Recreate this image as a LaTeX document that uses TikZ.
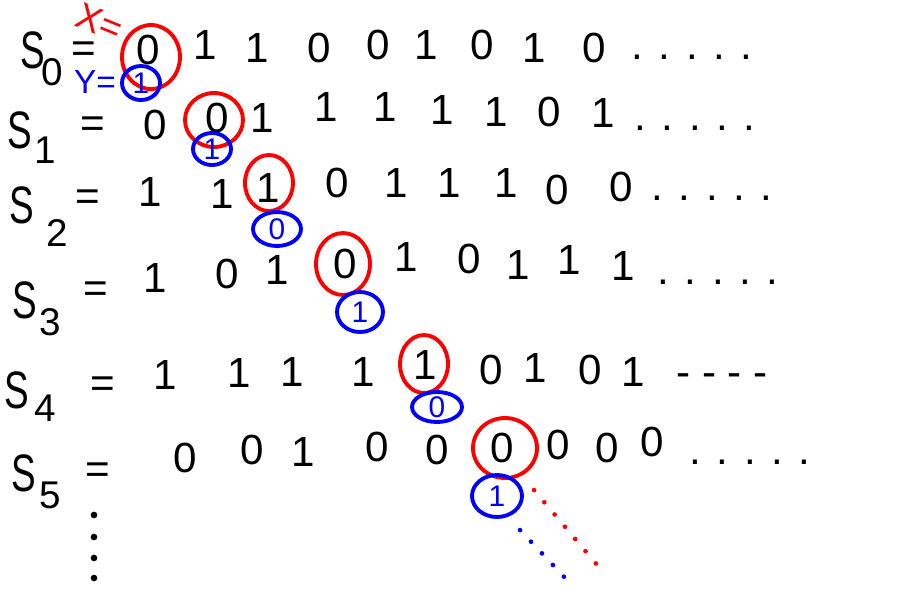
\documentclass[tikz,border=0pt]{standalone}
\usepackage{fontspec}
\setmainfont{Liberation Sans}
\usetikzlibrary{shapes.geometric}

\tikzset{
	bit/.style={font=\fontsize{24}{24}\selectfont},
	seqindex/.style={font=\fontsize{22}{22}\selectfont},
	redring/.style={ellipse, draw=red, line width=2.2pt, inner sep=0pt},
	bluering/.style={ellipse, draw=blue, text=blue, line width=2.2pt, inner sep=0pt, font=\fontsize{17}{17}\selectfont},
	diagdots/.style={line width=2.6pt, line cap=round, dash pattern=on 0.1pt off 9pt}
}
\newcommand{\seqS}{{\fontsize{30}{30}\selectfont\scalebox{0.7}[1]{S}}}

\begin{document}
\begin{tikzpicture}[x=0.02cm, y=-0.02cm]
	\useasboundingbox (0,0) rectangle (900,600);
	
	%%% Имена последовательностей
	
	\node (s0) at (33,50) {\seqS};   \node[seqindex] (i0) at (52,72) {0};   \node[bit] (e0) at (84,52) {=};
	\node (s1) at (20,130) {\seqS};  \node[seqindex] (i1) at (45,150) {1};  \node[bit] (e1) at (93,127) {=};
	\node (s2) at (22,205) {\seqS};  \node[seqindex] (i2) at (57,233) {2};  \node[bit] (e2) at (88,200) {=};
	\node (s3) at (25,300) {\seqS};  \node[seqindex] (i3) at (50,322) {3};  \node[bit] (e3) at (96,292) {=};
	\node (s4) at (17,390) {\seqS};  \node[seqindex] (i4) at (45,408) {4};  \node[bit] (e4) at (103,387) {=};
	\node (s5) at (24,473) {\seqS};  \node[seqindex] (i5) at (50,495) {5};  \node[bit] (e5) at (98,473) {=};
	
	%%% Строки битов
	
	% S_0
	\foreach \x/\y/\d [count=\i] in {148/50/0, 205/45/1, 257/48/1, 319/48/0, 378/45/0, 426/45/1, 482/45/0, 534/48/1, 594/48/0}
		\node[bit] (d0-\i) at (\x,\y) {\d};
	% S_1
	\foreach \x/\y/\d [count=\i] in {155/125/0, 217/118/0, 262/118/1, 326/107/1, 385/107/1, 442/110/1, 496/112/1, 549/112/0, 603/113/1}
		\node[bit] (d1-\i) at (\x,\y) {\d};
	% S_2
	\foreach \x/\y/\d [count=\i] in {150/192/1, 222/194/1, 268/188/1, 337/183/0, 396/183/1, 449/183/1, 506/183/1, 557/190/0, 621/187/0}
		\node[bit] (d2-\i) at (\x,\y) {\d};
	% S_3
	\foreach \x/\y/\d [count=\i] in {155/278/1, 227/274/0, 277/270/1, 345/264/0, 406/257/1, 469/259/0, 518/265/1, 569/260/1, 623/266/1}
		\node[bit] (d3-\i) at (\x,\y) {\d};
	% S_4
	\foreach \x/\y/\d [count=\i] in {165/375/1, 239/373/1, 292/372/1, 363/372/1, 425/365/1, 491/370/0, 535/368/1, 590/370/0, 633/372/1}
		\node[bit] (d4-\i) at (\x,\y) {\d};
	% S_5
	\foreach \x/\y/\d [count=\i] in {185/458/0, 252/450/0, 303/452/1, 377/447/0, 437/450/0, 502/448/0, 558/445/0, 607/448/0, 652/442/0}
		\node[bit] (d5-\i) at (\x,\y) {\d};
	
	% Многоточия
	\node[bit] (t0) at (692,57) {. . . . .};
	\node[bit] (t1) at (695,128) {. . . . .};
	\node[bit] (t2) at (712,198) {. . . . .};
	\node[bit] (t3) at (718,282) {. . . . .};
	\node[bit] (t4) at (722,380) {- - - -};
	\node[bit] (t5) at (750,462) {. . . . .};
	\foreach \y in {515,537,558,578}
		\fill (94,\y) circle (1.9pt);
	
	%%% Диагональ
	
	\node[red, font=\fontsize{21}{21}\selectfont, rotate=-22, inner sep=1pt] (xlab) at (100,22) {X=};
	\node[blue, font=\fontsize{19}{19}\selectfont, inner sep=1pt] (ylab) at (95,82) {Y=};
	
	\node[redring, minimum width=1.16cm, minimum height=1.28cm] (r0) at (151,57) {};
	\node[redring, minimum width=1.16cm, minimum height=1.08cm] (r1) at (214,120) {};
	\node[redring, minimum width=0.96cm, minimum height=1.12cm] (r2) at (269,183) {};
	\node[redring, minimum width=1.08cm, minimum height=1.24cm] (r3) at (343,264) {};
	\node[redring, minimum width=0.96cm, minimum height=1.16cm] (r4) at (424,364) {};
	\node[redring, minimum width=1.28cm, minimum height=1.20cm] (r5) at (505,448) {};
	
	\node[bluering, minimum width=0.76cm, minimum height=0.68cm] (y0) at (141,83) {1};
	\node[bluering, minimum width=0.76cm, minimum height=0.64cm] (y1) at (212,149) {1};
	\node[bluering, minimum width=0.96cm, minimum height=0.68cm] (y2) at (277,229) {0};
	\node[bluering, minimum width=0.92cm, minimum height=0.80cm] (y3) at (360,312) {1};
	\node[bluering, minimum width=1.00cm, minimum height=0.60cm] (y4) at (437,407) {0};
	\node[bluering, minimum width=1.00cm, minimum height=0.84cm] (y5) at (497,496) {1};
	
	% Продолжение
	\coordinate (xa) at (534,490);
	\coordinate (xb) at (598,566);
	\coordinate (ya) at (520,530);
	\coordinate (yb) at (567,580);
	\draw[red, diagdots] (xa) -- (xb);
	\draw[blue, diagdots] (ya) -- (yb);
\end{tikzpicture}
\end{document}
